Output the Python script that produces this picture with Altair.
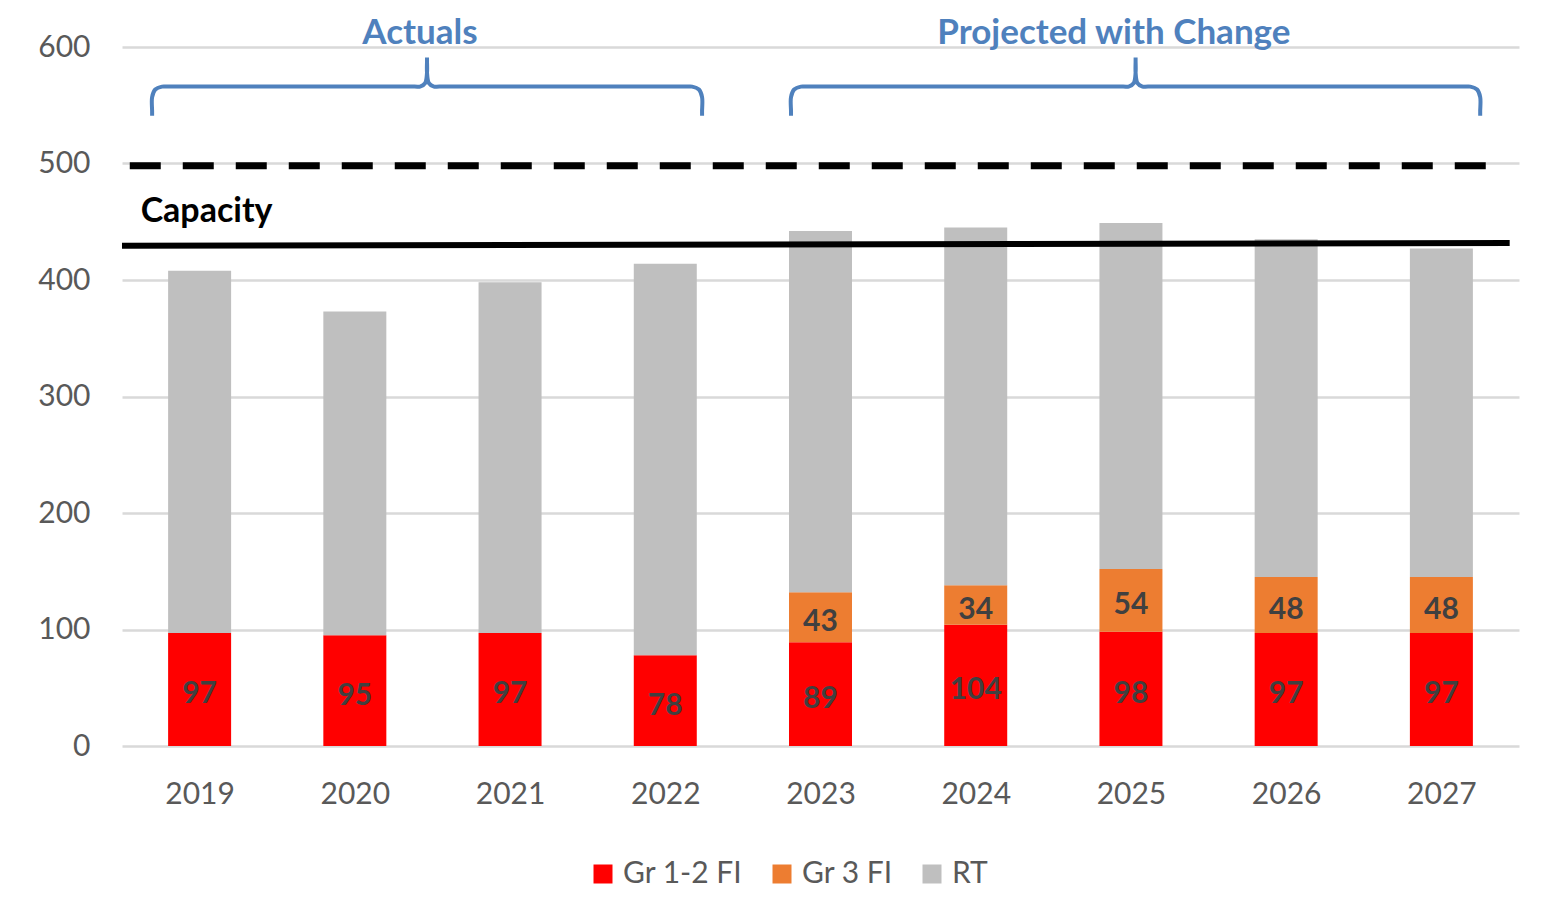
import altair as alt
import pandas as pd

# ---------------- data ----------------
years = [2019, 2020, 2021, 2022, 2023, 2024, 2025, 2026, 2027]
gr12 = [97, 95, 97, 78, 89, 104, 98, 97, 97]
gr3 = [0, 0, 0, 0, 43, 34, 54, 48, 48]
rt = [311, 278, 301, 336, 310, 307, 297, 290, 282]
series_names = ["Gr 1-2 FI", "Gr 3 FI", "RT"]
series_colors = ["#FF0000", "#ED7D31", "#BFBFBF"]

capacity_x = [2018.5, 2027.44]
capacity_y = [429.3, 431.8]
limit_x = [2018.55, 2027.32]
limit_y = [498, 498]

capacity_label = "Capacity"
capacity_label_x = 2018.62
capacity_label_y = 458

group_labels = ["Actuals", "Projected with Change"]
group_label_x = [2020.42, 2024.89]
group_label_y = [612, 612]
brace_left = [2018.694, 2022.81]
brace_right = [2022.237, 2027.25]
brace_mid = [2020.465, 2025.03]
brace_end_y = 541
brace_bar_y = 566
brace_tip_y = 591

FONT = "Lato"
LABEL_GRAY = "#595959"
BLUE = "#4F81BD"

# ---------------- tables ----------------
rows = []
for i, y in enumerate(years):
    for k, (name, vals) in enumerate(zip(series_names, [gr12, gr3, rt])):
        rows.append({"year": y, "series": name, "value": vals[i], "ord": k})
bars_df = pd.DataFrame(rows)

lab_rows = []
for i, y in enumerate(years):
    lab_rows.append({"year": y, "mid": gr12[i] / 2, "txt": str(gr12[i])})
    if gr3[i] > 0:
        lab_rows.append({"year": y, "mid": gr12[i] + gr3[i] / 2, "txt": str(gr3[i])})
labels_df = pd.DataFrame(lab_rows)

cap_df = pd.DataFrame({"year": capacity_x, "v": capacity_y})
lim_df = pd.DataFrame({"year": limit_x, "v": limit_y})

brace_rows = []
for b in range(len(group_labels)):
    x0, x1, xm = brace_left[b], brace_right[b], brace_mid[b]
    e, h, t = brace_end_y, brace_bar_y, brace_tip_y
    pts = [
        (x0, e), (x0, e + 4), (x0, h - 9), (x0 + 0.02, h - 2.5), (x0 + 0.064, h), (x0 + 0.1, h),
        (xm - 0.08, h), (xm - 0.045, h), (xm - 0.012, h + 3), (xm, h + 12), (xm, t - 3), (xm, t),
        (xm, t - 3), (xm, h + 12), (xm + 0.012, h + 3), (xm + 0.045, h), (xm + 0.08, h),
        (x1 - 0.1, h), (x1 - 0.064, h), (x1 - 0.02, h - 2.5), (x1, h - 9), (x1, e + 4), (x1, e),
    ]
    for j, (px, py) in enumerate(pts):
        brace_rows.append({"brace": group_labels[b], "year": px, "v": py, "o": j})
brace_df = pd.DataFrame(brace_rows)

group_df = pd.DataFrame({"year": group_label_x, "v": group_label_y, "txt": group_labels})
cap_lab_df = pd.DataFrame({"year": [capacity_label_x], "v": [capacity_label_y], "txt": [capacity_label]})

# ---------------- scales ----------------
xscale = alt.Scale(domain=[2018.5, 2027.5], nice=False, zero=False, padding=0)
yscale = alt.Scale(domain=[0, 600], nice=False)

bars = alt.Chart(bars_df).mark_bar(size=63).encode(
    x=alt.X("year:Q", scale=xscale,
            axis=alt.Axis(values=years, format="d", ticks=False, domain=False, grid=False,
                          labelFontSize=30, labelColor=LABEL_GRAY, labelFont=FONT,
                          labelPadding=33, title=None)),
    y=alt.Y("value:Q", stack="zero", scale=yscale,
            axis=alt.Axis(values=[0, 100, 200, 300, 400, 500, 600], ticks=False, domain=False,
                          gridColor="#D9D9D9", gridWidth=2.5,
                          labelFontSize=30, labelColor=LABEL_GRAY, labelFont=FONT,
                          labelPadding=32, title=None)),
    color=alt.Color("series:N", sort=series_names,
                    scale=alt.Scale(domain=series_names, range=series_colors),
                    legend=alt.Legend(orient="none", legendX=466, legendY=812,
                                      direction="horizontal", title=None,
                                      symbolType="square", symbolSize=361,
                                      symbolStrokeWidth=0, labelFontSize=30,
                                      labelColor=LABEL_GRAY, labelFont=FONT,
                                      labelOffset=5, columnPadding=24, padding=0)),
    order=alt.Order("ord:Q"),
)

bar_labels = alt.Chart(labels_df).mark_text(
    font=FONT, fontSize=30, fontWeight="bold", color="#404040", baseline="middle", dy=5
).encode(
    x=alt.X("year:Q", scale=xscale),
    y=alt.Y("mid:Q", scale=yscale),
    text="txt:N",
)

cap_line = alt.Chart(cap_df).mark_line(color="black", strokeWidth=6).encode(
    x=alt.X("year:Q", scale=xscale), y=alt.Y("v:Q", scale=yscale)
)
lim_line = alt.Chart(lim_df).mark_line(color="black", strokeWidth=7, strokeDash=[31, 22]).encode(
    x=alt.X("year:Q", scale=xscale), y=alt.Y("v:Q", scale=yscale)
)

braces = alt.Chart(brace_df).mark_line(color=BLUE, strokeWidth=4, interpolate="catmull-rom").encode(
    x=alt.X("year:Q", scale=xscale), y=alt.Y("v:Q", scale=yscale),
    detail="brace:N", order="o:Q",
)

group_text = alt.Chart(group_df).mark_text(
    font=FONT, fontSize=35, fontWeight="bold", color=BLUE, baseline="middle", align="center"
).encode(x=alt.X("year:Q", scale=xscale), y=alt.Y("v:Q", scale=yscale), text="txt:N")

cap_text = alt.Chart(cap_lab_df).mark_text(
    font=FONT, fontSize=34, fontWeight="bold", color="black", baseline="middle", align="left"
).encode(x=alt.X("year:Q", scale=xscale), y=alt.Y("v:Q", scale=yscale), text="txt:N")

chart = alt.layer(bars, bar_labels, lim_line, cap_line, braces, group_text, cap_text).properties(
    width=1397, height=699,
    autosize=alt.AutoSizeParams(type="none"),
    padding={"left": 114, "top": 39, "right": 29, "bottom": 160},
    background="white",
).configure_view(stroke=None)

chart.save("out.html", embed_options={"renderer": "svg", "actions": False})
